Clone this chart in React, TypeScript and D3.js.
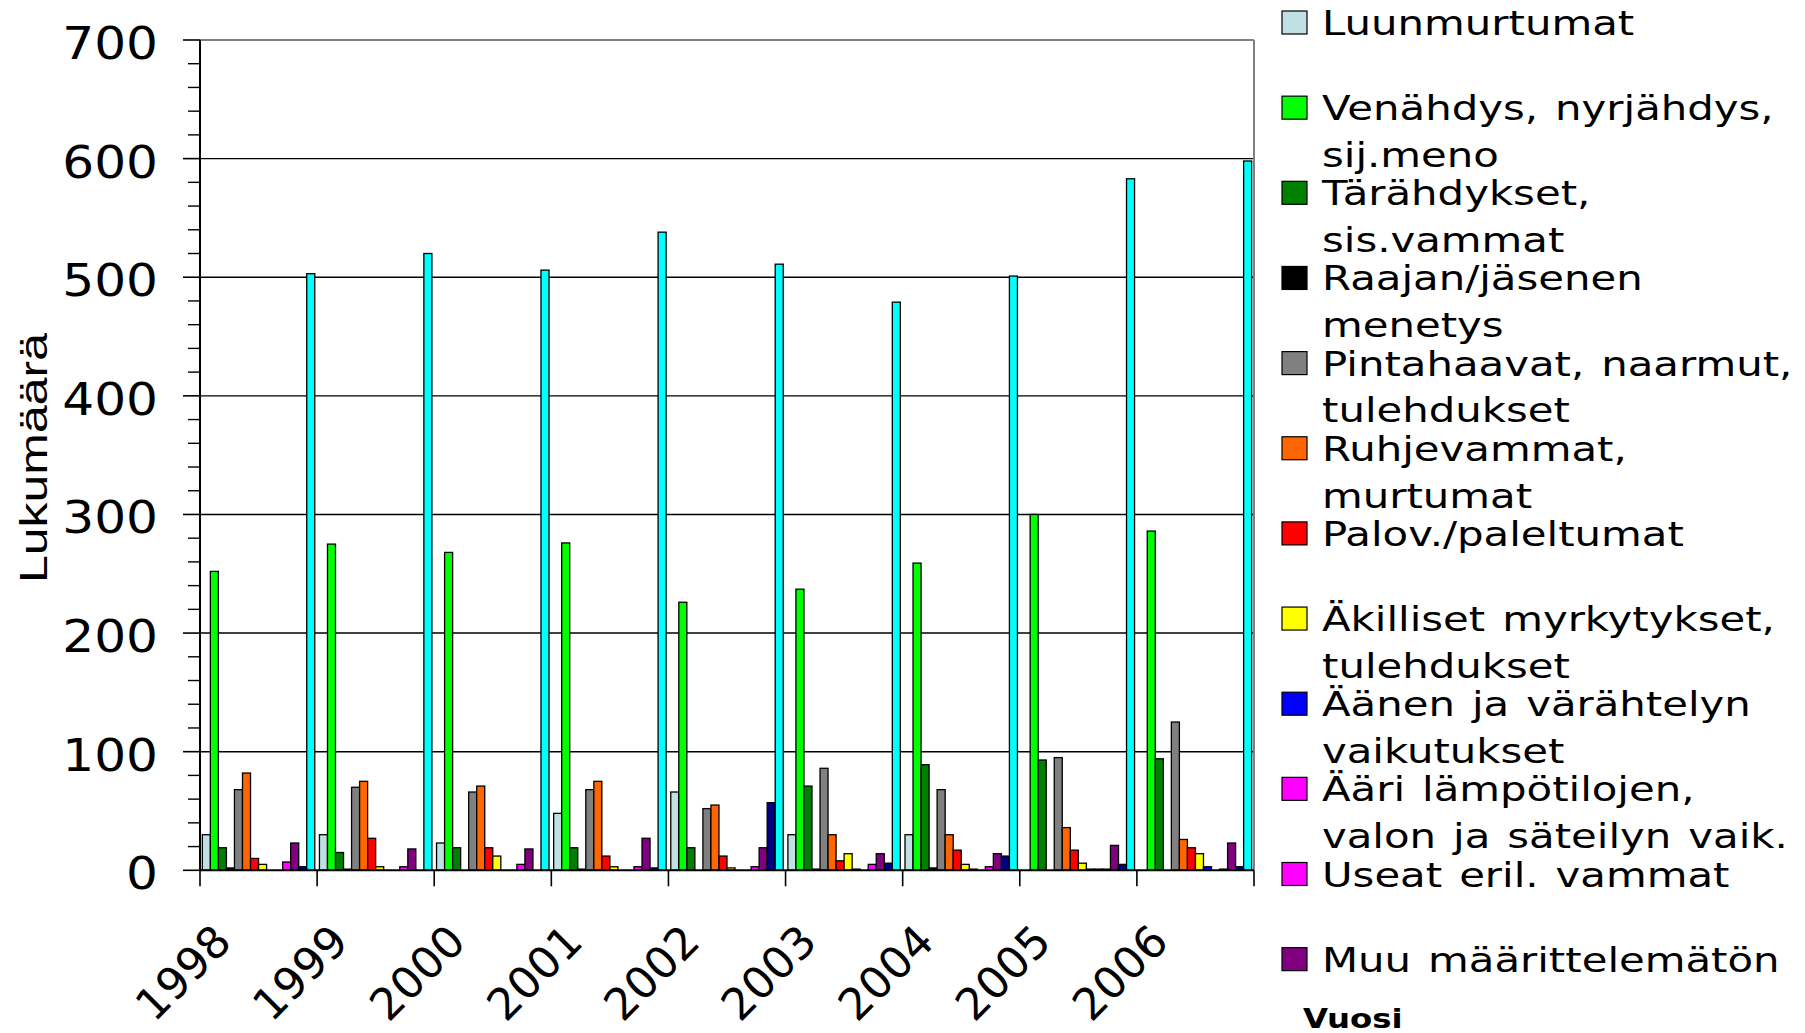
import React from 'react';
import * as d3 from 'd3';

// vuodet (x-akselin luokat)
const years = ['1998', '1999', '2000', '2001', '2002', '2003', '2004', '2005', '2006'];

// sarjojen nimet legendassa (rivit eroteltuina)
const legendLabels = [
  ['Luunmurtumat'],
  ['Venähdys, nyrjähdys,', 'sij.meno'],
  ['Tärähdykset,', 'sis.vammat'],
  ['Raajan/jäsenen', 'menetys'],
  ['Pintahaavat, naarmut,', 'tulehdukset'],
  ['Ruhjevammat,', 'murtumat'],
  ['Palov./paleltumat'],
  ['Äkilliset myrkytykset,', 'tulehdukset'],
  ['Äänen ja värähtelyn', 'vaikutukset'],
  ['Ääri lämpötilojen,', 'valon ja säteilyn vaik.'],
  ['Useat eril. vammat'],
  ['Muu määrittelemätön'],
];

const colors = [
  '#c0e0e4', '#00ff00', '#008000', '#000000', '#808080', '#ff6600', '#ff0000',
  '#ffff00', '#0000ff', '#ff00ff', '#ff00ff', '#800080', '#000080', '#00ffff',
];

// arvot vuosittain, sarja kerrallaan
const luunmurtumat = [30, 30, 23, 48, 66, 30, 30, 0, 0];
const venahdys = [252, 275, 268, 276, 226, 237, 259, 300, 286];
const tarahdykset = [19, 15, 19, 19, 19, 71, 89, 93, 94];
const raajan = [2, 1, 0, 1, 0, 1, 2, 0, 0];
const pintahaavat = [68, 70, 66, 68, 52, 86, 68, 95, 125];
const ruhjevammat = [82, 75, 71, 75, 55, 30, 30, 36, 26];
const palov = [10, 27, 19, 12, 12, 8, 17, 17, 19];
const akilliset = [5, 3, 12, 3, 2, 14, 5, 6, 14];
const aanen = [0, 0, 0, 0, 0, 1, 1, 1, 3];
const aari = [0, 0, 0, 0, 0, 0, 0, 1, 0];
const useat = [7, 3, 5, 3, 3, 5, 3, 1, 1];
const muu = [23, 18, 18, 27, 19, 14, 14, 21, 23];
const sarja13 = [3, 0, 0, 2, 57, 6, 12, 5, 3];
const sarja14 = [503, 520, 506, 538, 511, 479, 501, 583, 598];

const seriesValues = [
  luunmurtumat, venahdys, tarahdykset, raajan, pintahaavat, ruhjevammat, palov,
  akilliset, aanen, aari, useat, muu, sarja13, sarja14,
];

const yTicks = [0, 100, 200, 300, 400, 500, 600, 700];
const yMinor = d3.range(20, 700, 20).filter(v => v % 100 !== 0);

const plotLeft = 200;
const plotRight = 1254;
const plotTop = 40;
const plotBottom = 870.3;

const font = 'DejaVu Sans, Verdana, sans-serif';

export default function App() {
  const x0 = d3.scaleBand<string>().domain(years).range([plotLeft, plotRight]).paddingInner(0).paddingOuter(0);
  const x1 = d3.scaleBand<number>()
    .domain(d3.range(seriesValues.length))
    .range([0, x0.bandwidth()])
    .paddingInner(0)
    .paddingOuter(0.29);
  const y = d3.scaleLinear().domain([0, 700]).range([plotBottom, plotTop]);

  const boundaries = years.map(yr => x0(yr)!).concat([plotRight]);

  return (
    <svg width={1805} height={1033} style={{ position: 'absolute', left: 0, top: 0, background: '#fff' }}>
      {/* ruudukko */}
      {yTicks.filter(v => v > 0 && v < 700).map(v => (
        <line key={v} x1={plotLeft} x2={plotRight} y1={y(v)} y2={y(v)} stroke="#000" strokeWidth={1.4} />
      ))}
      <line x1={plotLeft} x2={plotRight} y1={y(700)} y2={y(700)} stroke="#808080" strokeWidth={2} />
      <line x1={plotRight} x2={plotRight} y1={y(700)} y2={plotBottom} stroke="#808080" strokeWidth={2} />

      {/* pylväät */}
      {years.map((yr, i) => (
        <g key={yr} transform={`translate(${x0(yr)},0)`}>
          {seriesValues.map((vals, k) => vals[i] > 0 ? (
            <rect
              key={k}
              x={x1(k)}
              y={y(vals[i])}
              width={x1.bandwidth()}
              height={y(0) - y(vals[i])}
              fill={colors[k]}
              stroke="#000"
              strokeWidth={1.3}
            />
          ) : null)}
        </g>
      ))}

      {/* akselit */}
      <line x1={plotLeft} x2={plotLeft} y1={plotTop} y2={plotBottom} stroke="#000" strokeWidth={2} />
      <line x1={plotLeft} x2={plotRight} y1={plotBottom} y2={plotBottom} stroke="#000" strokeWidth={2} />
      {yTicks.map(v => (
        <line key={v} x1={plotLeft - 17} x2={plotLeft} y1={y(v)} y2={y(v)} stroke="#000" strokeWidth={1.6} />
      ))}
      {yMinor.map(v => (
        <line key={v} x1={plotLeft - 12} x2={plotLeft} y1={y(v)} y2={y(v)} stroke="#000" strokeWidth={1.4} />
      ))}
      {boundaries.map((bx, i) => (
        <line key={i} x1={bx} x2={bx} y1={plotBottom} y2={plotBottom + 16} stroke="#000" strokeWidth={1.6} />
      ))}

      {yTicks.map(v => (
        <text
          key={v}
          transform={`translate(158,${y(v) + 19}) scale(1.14,1)`}
          textAnchor="end"
          fontFamily={font}
          fontSize={44}
          fill="#000"
        >
          {v}
        </text>
      ))}

      {years.map(yr => (
        <text
          key={yr}
          transform={`translate(${x0(yr)! + x0.bandwidth() / 2 - 25},944) rotate(-45)`}
          textAnchor="end"
          fontFamily={font}
          fontSize={44}
          fill="#000"
        >
          {yr}
        </text>
      ))}

      <text
        transform="translate(47,458) rotate(-90)"
        textAnchor="middle"
        fontFamily="Liberation Sans, Arial, sans-serif"
        fontSize={39}
        textLength={250}
        lengthAdjust="spacingAndGlyphs"
        fill="#000"
      >
        Lukumäärä
      </text>

      {/* selite */}
      {legendLabels.map((lines, i) => {
        const base = 35 + i * 85.15;
        return (
          <g key={i}>
            <rect x={1282} y={base - 24} width={25} height={23} fill={colors[i]} stroke="#000" strokeWidth={1.2} />
            {lines.map((ln, j) => (
              <text
                key={j}
                transform={`translate(1322,${base + j * 46.8}) scale(1.23,1)`}
                fontFamily={font}
                fontSize={34}
                wordSpacing={3}
                fill="#000"
              >
                {ln}
              </text>
            ))}
          </g>
        );
      })}

      <text
        transform="translate(1303,1028) scale(1.2,1)"
        fontFamily={font}
        fontSize={27}
        fontWeight="bold"
        fill="#000"
      >
        Vuosi
      </text>
    </svg>
  );
}
